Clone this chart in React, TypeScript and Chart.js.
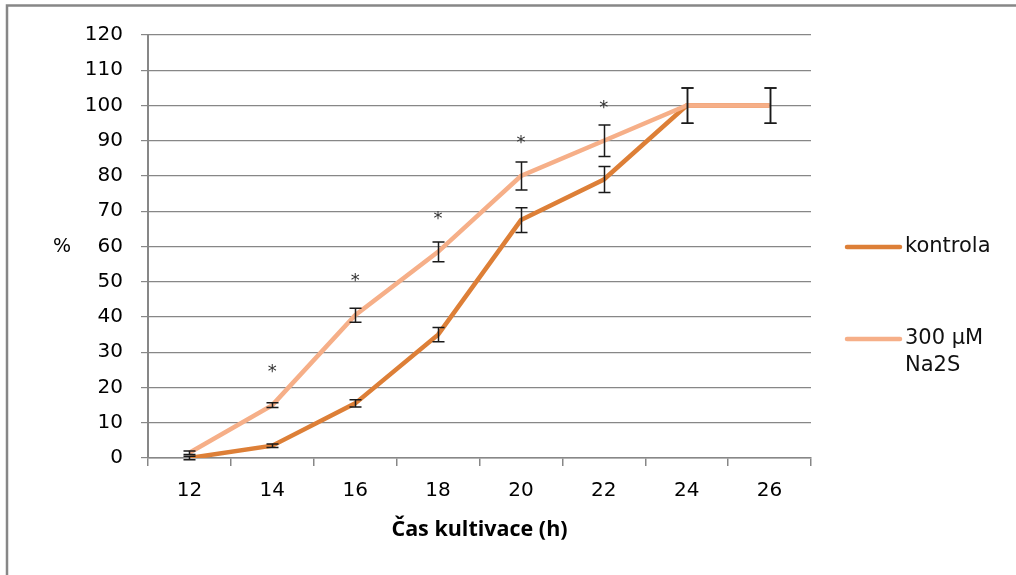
import React, { useEffect, useRef } from "react";
import { Chart, registerables } from "chart.js";

Chart.register(...registerables);

const categories = ["12", "14", "16", "18", "20", "22", "24", "26"];
const kontrola = [0, 3.5, 15.5, 35, 67.5, 79, 100, 100];
const kontrolaErr = [0.5, 0.5, 1, 2, 3.5, 3.7, 5, 5];
const na2s = [1.5, 15, 40.5, 58.5, 80, 90, 100, 100];
const na2sErr = [0.5, 0.7, 2, 2.8, 4, 4.5, 5, 5];
const asterisks: (number | null)[] = [null, 26, 52, 69.5, 91, 101, null, null];
const seriesNames = ["kontrola", "300 µM", "Na2S"];
const xTitle = "Čas kultivace (h)";
const yTitle = "%";

const DARK = "#DD7F37";
const LIGHT = "#F6AF88";
const GRID = "#878787";
const FONT = "'DejaVu Sans', sans-serif";
const BOLD_FONT = "'Open Sans', sans-serif";

const customPlugin = {
  id: "customDecor",
  beforeDraw(chart: any) {
    const ctx = chart.ctx;
    ctx.save();
    ctx.fillStyle = "#ffffff";
    ctx.fillRect(0, 0, chart.width, chart.height);
    ctx.strokeStyle = GRID;
    ctx.lineWidth = 2.5;
    ctx.beginPath();
    ctx.moveTo(7, chart.height);
    ctx.lineTo(7, 5.5);
    ctx.lineTo(chart.width, 5.5);
    ctx.stroke();
    ctx.restore();
  },
  afterDatasetsDraw(chart: any) {
    const ctx = chart.ctx;
    const yScale = chart.scales.y;
    const errs = [kontrolaErr, na2sErr];
    const vals = [kontrola, na2s];
    ctx.save();
    ctx.strokeStyle = "#1a1a1a";
    ctx.lineWidth = 1.5;
    for (let d = 0; d < 2; d++) {
      const meta = chart.getDatasetMeta(d);
      meta.data.forEach((pt: any, j: number) => {
        const v = vals[d][j];
        const e = errs[d][j];
        if (v == null || e == null) return;
        const x = Math.round(pt.x) + 0.5;
        const yT = yScale.getPixelForValue(v + e);
        const yB = yScale.getPixelForValue(v - e);
        ctx.beginPath();
        ctx.moveTo(x, yT);
        ctx.lineTo(x, yB);
        ctx.moveTo(x - 6, yT);
        ctx.lineTo(x + 6, yT);
        ctx.moveTo(x - 6, yB);
        ctx.lineTo(x + 6, yB);
        ctx.stroke();
      });
    }
    // significance asterisks
    const meta = chart.getDatasetMeta(1);
    ctx.fillStyle = "#333333";
    ctx.font = `18px ${FONT}`;
    ctx.textAlign = "center";
    ctx.textBaseline = "alphabetic";
    meta.data.forEach((pt: any, j: number) => {
      const a = asterisks[j];
      if (a == null) return;
      ctx.fillText("*", pt.x, yScale.getPixelForValue(a) + 11);
    });
    ctx.restore();
  },
  afterDraw(chart: any) {
    const ctx = chart.ctx;
    const area = chart.chartArea;
    ctx.save();
    ctx.fillStyle = "#000000";
    ctx.textBaseline = "middle";
    // axis titles
    ctx.font = `bold 21.5px ${BOLD_FONT}`;
    ctx.textAlign = "center";
    ctx.fillText(xTitle, (area.left + area.right) / 2, 530);
    ctx.font = `19px ${FONT}`;
    ctx.fillText(yTitle, 62, 247);
    // legend
    ctx.lineCap = "round";
    ctx.lineWidth = 4.5;
    ctx.strokeStyle = DARK;
    ctx.beginPath();
    ctx.moveTo(847, 247);
    ctx.lineTo(900, 247);
    ctx.stroke();
    ctx.strokeStyle = LIGHT;
    ctx.beginPath();
    ctx.moveTo(847, 339);
    ctx.lineTo(900, 339);
    ctx.stroke();
    ctx.font = `21px ${FONT}`;
    ctx.textAlign = "left";
    ctx.fillStyle = "#111111";
    ctx.fillText(seriesNames[0], 905, 247);
    ctx.fillText(seriesNames[1], 905, 339);
    ctx.fillText(seriesNames[2], 905, 366);
    ctx.restore();
  },
};

export default function App() {
  const ref = useRef<HTMLCanvasElement | null>(null);
  useEffect(() => {
    if (!ref.current) return;
    const chart = new Chart(ref.current, {
      type: "line",
      data: {
        labels: categories,
        datasets: [
          {
            label: "kontrola",
            data: kontrola,
            borderColor: DARK,
            backgroundColor: DARK,
            borderWidth: 4.5,
            pointRadius: 0,
            tension: 0,
            order: 1,
          },
          {
            label: "300 µM Na2S",
            data: na2s,
            borderColor: LIGHT,
            backgroundColor: LIGHT,
            borderWidth: 4.5,
            pointRadius: 0,
            tension: 0,
            order: 0,
          },
        ],
      },
      options: {
        responsive: false,
        animation: false,
        devicePixelRatio: 1,
        layout: { padding: { left: 0, top: 35, right: 205, bottom: 0 } },
        plugins: {
          legend: { display: false },
          tooltip: { enabled: false },
        },
        scales: {
          x: {
            type: "category",
            offset: true,
            grid: {
              offset: true,
              drawOnChartArea: false,
              drawTicks: true,
              tickLength: 8,
              color: GRID,
              lineWidth: 1.5,
            },
            border: { display: true, color: GRID, width: 1.5 },
            ticks: {
              color: "#000",
              font: { family: FONT, size: 20 },
              padding: 13,
              maxRotation: 0,
            },
            afterFit(scale: any) {
              scale.height = 117;
            },
          },
          y: {
            min: 0,
            max: 120,
            grid: {
              color: GRID,
              lineWidth: 1.2,
              tickLength: 7,
              drawTicks: true,
            },
            border: { display: true, color: GRID, width: 2 },
            ticks: {
              stepSize: 10,
              color: "#000",
              font: { family: FONT, size: 20 },
              padding: 18,
            },
            afterFit(scale: any) {
              scale.width = 148;
            },
          },
        },
      },
      plugins: [customPlugin],
    } as any);
    return () => chart.destroy();
  }, []);
  return (
    <div style={{ position: "absolute", left: 0, top: 0, width: 1016, height: 575 }}>
      <canvas ref={ref} width={1016} height={575} style={{ display: "block" }} />
    </div>
  );
}
